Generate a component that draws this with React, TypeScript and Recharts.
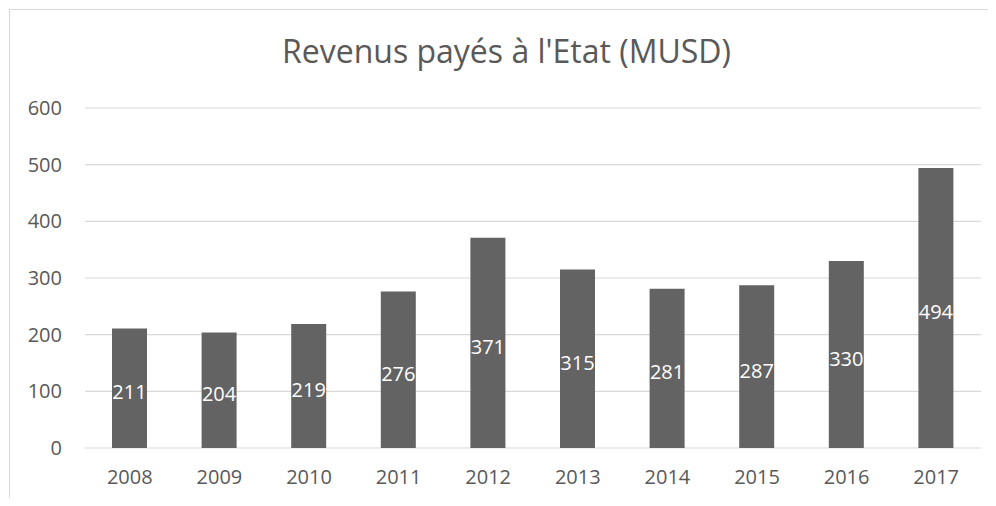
import React from 'react';
import { BarChart, Bar, XAxis, YAxis, CartesianGrid, LabelList } from 'recharts';

const years = ['2008', '2009', '2010', '2011', '2012', '2013', '2014', '2015', '2016', '2017'];
const revenues = [211, 204, 219, 276, 371, 315, 281, 287, 330, 494];
const yTicks = [0, 100, 200, 300, 400, 500, 600];
const title = "Revenus payés à l'Etat (MUSD)";

const data = years.map((y, i) => ({ year: y, value: revenues[i] }));

const FONT = '"Open Sans", sans-serif';
const TEXT = '#595959';

export default function App() {
  return (
    <div style={{ position: 'relative', width: 980, height: 490, fontFamily: FONT }}>
      <div
        style={{
          position: 'absolute',
          left: 1,
          top: 1,
          width: 986,
          height: 497,
          borderLeft: '1px solid #d9d9d9',
          borderTop: '1px solid #d9d9d9',
          boxSizing: 'border-box',
        }}
      />
      <svg style={{ position: 'absolute', left: 0, top: 0 }} width={980} height={80}>
        <text x={498.5} y={55} textAnchor="middle" fontFamily={FONT} fontSize={32} fill={TEXT}>
          {title}
        </text>
      </svg>
      <div style={{ position: 'absolute', left: 0, top: 0 }}>
        <BarChart
          width={980}
          height={490}
          data={data}
          margin={{ top: 100, right: 7, bottom: 20, left: 0 }}
        >
          <CartesianGrid vertical={false} stroke="#d9d9d9" strokeWidth={1.2} />
          <XAxis
            dataKey="year"
            axisLine={false}
            tickLine={false}
            tickSize={0}
            tickMargin={22}
            height={30}
            interval={0}
            tick={{ fill: TEXT, fontSize: 20, fontFamily: FONT }}
          />
          <YAxis
            domain={[0, 600]}
            ticks={yTicks}
            width={77}
            axisLine={false}
            tickLine={false}
            tickSize={0}
            tickMargin={23}
            tick={{ fill: TEXT, fontSize: 20, fontFamily: FONT }}
          />
          <Bar dataKey="value" fill="#636363" barSize={35} isAnimationActive={false}>
            <LabelList dataKey="value" position="center" fill="#ffffff" fontSize={20} fontFamily={FONT} dy={4} />
          </Bar>
        </BarChart>
      </div>
    </div>
  );
}
